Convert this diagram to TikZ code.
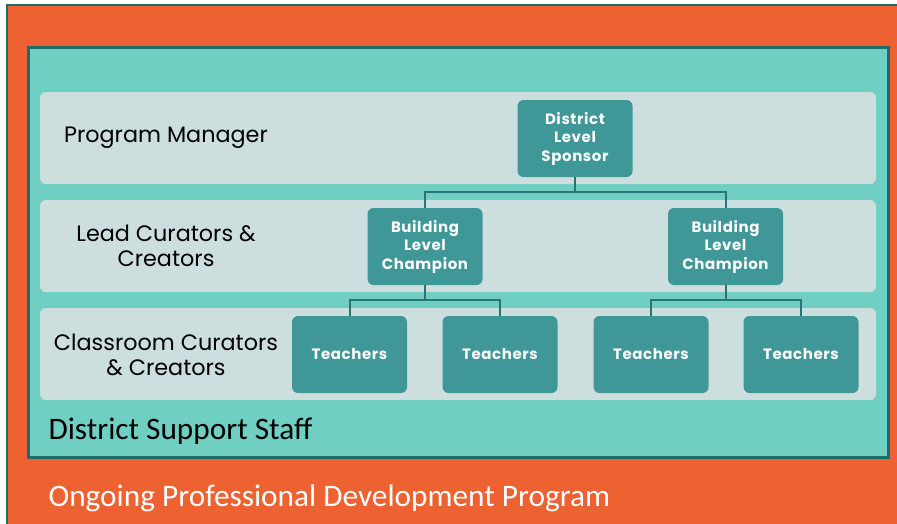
\documentclass[tikz,border=0pt]{standalone}
\usepackage{fontspec}
\setmainfont{Carlito}
\newfontfamily\gothic{Poppins}
\newfontfamily\gothicwide[LetterSpace=4]{Poppins}
\definecolor{pdorange}{HTML}{EE6130}
\definecolor{staffteal}{HTML}{70CFC3}
\definecolor{frameteal}{HTML}{1F6B6B}
\definecolor{bandgrey}{HTML}{CDDEDE}
\definecolor{roleteal}{HTML}{409798}
\definecolor{linkteal}{HTML}{2A7475}

\begin{document}
\begin{tikzpicture}%
[x=1pt,y=-1pt,band/.style={fill=bandgrey, rounded corners=6pt},%
role/.style={fill=roleteal, rounded corners=6pt, minimum width=115pt, minimum height=77pt,%
  text=white, align=center, font=\gothicwide\bfseries\fontsize{15}{18.5}\selectfont},%
tier/.style={align=center, font=\gothic\fontsize{22.3}{25}\selectfont},%
link/.style={draw=linkteal, line width=2pt}]

\useasboundingbox (0,0) rectangle (897,523);
\fill[white] (0,0) rectangle (897,523);
\filldraw[fill=pdorange, draw=frameteal, line width=2pt] (7,5) rectangle (905,530);
\filldraw[fill=staffteal, draw=frameteal, line width=3pt] (28,47) rectangle (888,457);

\fill[band] (40,92) rectangle (876,184);
\fill[band] (40,200) rectangle (876,292);
\fill[band] (40,308) rectangle (876,400);

\node[tier] (mgr) at (166,138) {Program Manager};
\node[tier] (lead) at (166,246) {Lead Curators \&\\Creators};
\node[tier] (class) at (166,355) {Classroom Curators\\\& Creators};

\node[role] (sponsor) at (575,138.5) {District\\Level\\Sponsor};
\node[role] (champL) at (425,246.5) {Building\\Level\\Champion};
\node[role] (champR) at (725.5,246.5) {Building\\Level\\Champion};
\node[role] (t1) at (349.5,354.5) {Teachers};
\node[role] (t2) at (500,354.5) {Teachers};
\node[role] (t3) at (651,354.5) {Teachers};
\node[role] (t4) at (801,354.5) {Teachers};

\draw[link] (sponsor.south) -- ++(0,15) -| (champL.north);
\draw[link] (sponsor.south) -- ++(0,15) -| (champR.north);
\draw[link] (champL.south) -- ++(0,15) -| (t1.north);
\draw[link] (champL.south) -- ++(0,15) -| (t2.north);
\draw[link] (champR.south) -- ++(0,15) -| (t3.north);
\draw[link] (champR.south) -- ++(0,15) -| (t4.north);

\node[anchor=west, font=\fontsize{31.3}{35}\selectfont] (staff) at (45,431) {District Support Staff};
\node[anchor=west, text=white, font=\fontsize{31.3}{35}\selectfont] (program) at (45,498) {Ongoing Professional Development Program};
\end{tikzpicture}
\end{document}
